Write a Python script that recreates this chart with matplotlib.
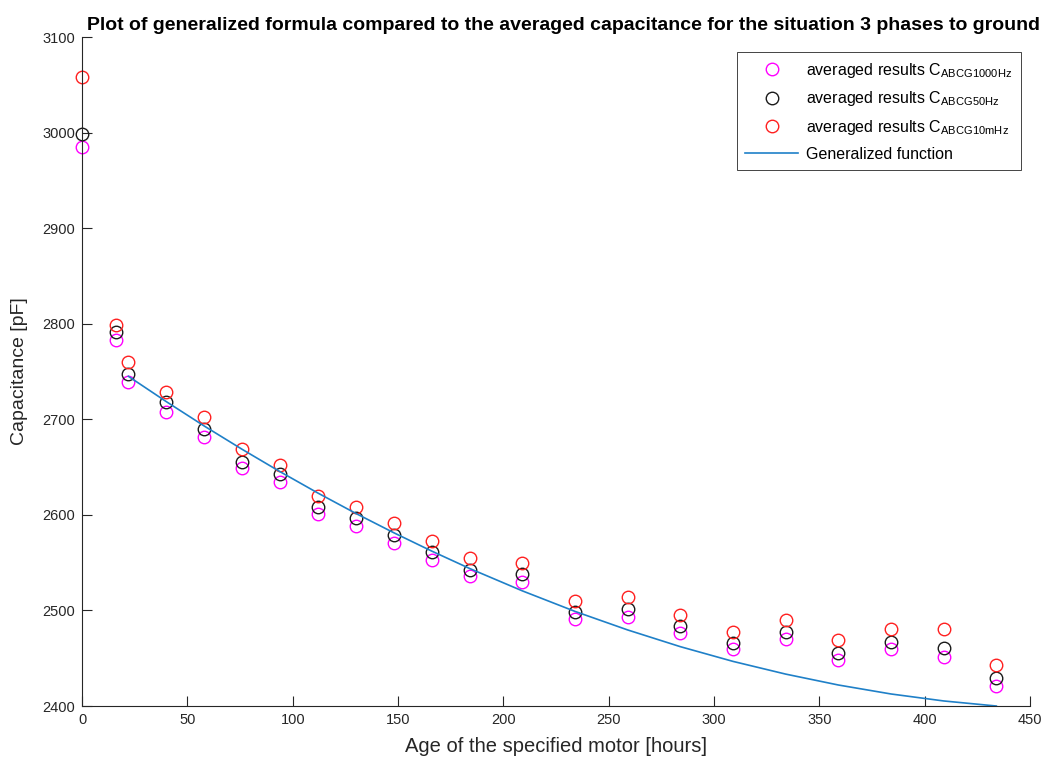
import matplotlib
matplotlib.use("Agg")
import matplotlib.pyplot as plt

plt.rcParams['font.family'] = ['Liberation Sans', 'DejaVu Sans']
plt.rcParams['mathtext.fontset'] = 'custom'
plt.rcParams['mathtext.rm'] = 'Liberation Sans'

# age of the motor [hours]
age_hours = [0, 16, 22, 40, 58, 76, 94, 112, 130, 148, 166, 184,
             209, 234, 259, 284, 309, 334, 359, 384, 409, 434]

# averaged capacitance [pF]
cap_1000hz = [2985.4, 2783.2, 2738.6, 2707.5, 2682.0, 2648.9, 2634.2, 2601.0,
              2588.8, 2570.5, 2552.6, 2536.1, 2529.8, 2491.0, 2493.6, 2476.0,
              2459.4, 2470.5, 2447.9, 2459.4, 2451.6, 2421.2]
cap_50hz = [2999.0, 2791.6, 2746.9, 2717.6, 2689.5, 2655.8, 2642.9, 2608.0,
            2597.2, 2579.3, 2560.7, 2542.8, 2537.9, 2498.6, 2501.0, 2483.3,
            2465.8, 2477.8, 2455.0, 2467.2, 2460.2, 2429.2]
cap_10mhz = [3058.3, 2798.6, 2759.5, 2728.8, 2702.3, 2668.8, 2652.0, 2619.4,
             2608.4, 2591.4, 2573.0, 2554.7, 2549.8, 2509.8, 2513.8, 2495.6,
             2477.8, 2490.2, 2469.1, 2480.4, 2480.8, 2443.1]

# generalized function, read at the measurement ages
fit_hours = [22, 40, 58, 76, 94, 112, 130, 148, 166, 184, 209, 234,
             259, 284, 309, 334, 359, 384, 409, 434]
fit_cap = [2745.0, 2718.5, 2693.0, 2668.6, 2645.2, 2622.8, 2601.5, 2581.3,
           2562.1, 2543.9, 2520.5, 2499.0, 2479.6, 2462.1, 2446.7, 2433.4,
           2422.0, 2412.6, 2405.3, 2400.0]

fig = plt.figure(figsize=(10.53, 7.65), dpi=100)
ax = fig.add_axes([0.0779, 0.0771, 0.9003, 0.8745])

ax.plot(age_hours, cap_1000hz, 'o', mfc='none', mec='#FF00FF', mew=1.0, ms=9,
        clip_on=False, label=r'averaged results C$_{\mathrm{ABCG1000Hz}}$')
ax.plot(age_hours, cap_50hz, 'o', mfc='none', mec='#1a1a1a', mew=1.0, ms=9,
        clip_on=False, label=r'averaged results C$_{\mathrm{ABCG50Hz}}$')
ax.plot(age_hours, cap_10mhz, 'o', mfc='none', mec='#FF2020', mew=1.0, ms=9,
        clip_on=False, label=r'averaged results C$_{\mathrm{ABCG10mHz}}$')
ax.plot(fit_hours, fit_cap, '-', color='#1f80c8', lw=1.2, label='Generalized function')

ax.set_xlim(0, 450)
ax.set_ylim(2400, 3100)
ax.set_xticks(range(0, 451, 50))
ax.set_yticks(range(2400, 3101, 100))

ax.spines['top'].set_visible(False)
ax.spines['right'].set_visible(False)
for s in ['left', 'bottom']:
    ax.spines[s].set_color('#262626')
    ax.spines[s].set_linewidth(0.8)
ax.tick_params(direction='in', length=7, width=0.8, colors='#262626',
               labelsize=10.5, pad=5)

ax.set_xlabel('Age of the specified motor [hours]', fontsize=14.5,
              color='#262626', labelpad=7)
ax.set_ylabel('Capacitance [pF]', fontsize=14, color='#262626', labelpad=10)
ax.set_title('Plot of generalized formula compared to the averaged capacitance '
             'for the situation 3 phases to ground', fontsize=14,
             fontweight='bold', pad=5, x=0.508)

leg = ax.legend(loc='upper right', bbox_to_anchor=(0.9905, 0.9776),
                borderaxespad=0, fontsize=11.5, handlelength=3.3,
                handletextpad=0.5, labelspacing=0.6, fancybox=False,
                framealpha=1, borderpad=0.55)
leg.get_frame().set_edgecolor('#262626')
leg.get_frame().set_linewidth(0.6)

fig.savefig('out.png', dpi=100)
